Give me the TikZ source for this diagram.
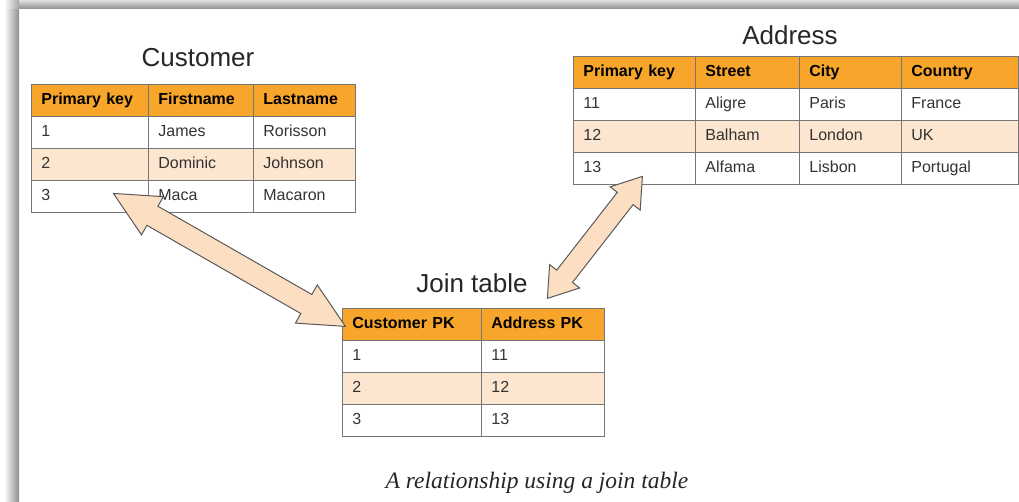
\documentclass[tikz,border=0pt]{standalone}
\usepackage{fontspec}
\setmainfont{Liberation Sans}
\newfontfamily\piefont{Liberation Serif}
\usepackage{tikz}
\usetikzlibrary{matrix, calc, positioning}
\definecolor{naranja}{RGB}{248, 166, 43}
\definecolor{melocoton}{RGB}{253, 230, 207}
\definecolor{flecha}{RGB}{252, 223, 194}
\definecolor{rejilla}{RGB}{118, 118, 118}
\definecolor{texto}{RGB}{51, 51, 51}
\tikzset{
    tabla/.style={matrix of nodes, row sep=-0.8pt, column sep=-0.8pt, anchor=north west,
        inner sep=0pt, outer sep=0pt,
        nodes={draw=rejilla, line width=0.8pt, minimum height=32pt, inner xsep=10pt, align=left,
               text=texto, font=\fontsize{16}{19}\selectfont, text height=12pt, text depth=3.5pt},
        row 1/.style={nodes={fill=naranja, text=black, font=\fontsize{16}{19}\selectfont\bfseries}},
        row 3/.style={nodes={fill=melocoton}}},
    titulo/.style={font=\fontsize{26}{30}\selectfont, text=black!85, anchor=base, inner sep=0pt},
    gorda/.style={fill=flecha, draw=black!65, line width=1pt, line join=miter},
}
% double block arrow: from, to, head length, head half width, shaft half width
\newcommand{\flechadoble}[5]{%
    \coordinate (fa) at ($(#1)!#3!(#2)$);
    \coordinate (fb) at ($(#2)!#3!(#1)$);
    \draw[gorda] (#1) -- ($(fa)!#4!90:(#2)$) -- ($(fa)!#5!90:(#2)$)
        -- ($(fb)!#5!-90:(#1)$) -- ($(fb)!#4!-90:(#1)$) -- (#2)
        -- ($(fb)!#4!90:(#1)$) -- ($(fb)!#5!90:(#1)$)
        -- ($(fa)!#5!-90:(#2)$) -- ($(fa)!#4!-90:(#2)$) -- cycle;
}

\begin{document}
\begin{tikzpicture}[x=1pt, y=-1pt]
    \useasboundingbox (0,0) rectangle (1019,502);

    % frame shadow
    \shade[left color=white, right color=black!45] (4,9) rectangle (19,502);
    \shade[top color=black!12, bottom color=black!45] (19,0) rectangle (1019,9);
    \shade[left color=white, right color=black!35] (4,0) rectangle (19,9);

    % tables
    \node[titulo] (tCliente) at (198,67) {Customer};
    \matrix[tabla,
        column 1/.style={nodes={text width=97pt}},
        column 2/.style={nodes={text width=85pt}},
        column 3/.style={nodes={text width=82pt}}] (cliente) at (31,84) {
        Primary key & Firstname & Lastname \\
        1 & James & Rorisson \\
        2 & Dominic & Johnson \\
        3 & Maca & Macaron \\
    };

    \node[titulo] (tDireccion) at (790,45) {Address};
    \matrix[tabla,
        column 1/.style={nodes={text width=102pt}},
        column 2/.style={nodes={text width=84pt}},
        column 3/.style={nodes={text width=82pt}},
        column 4/.style={nodes={text width=97pt}}] (direccion) at (573,56) {
        Primary key & Street & City & Country \\
        11 & Aligre & Paris & France \\
        12 & Balham & London & UK \\
        13 & Alfama & Lisbon & Portugal \\
    };

    \node[titulo] (tUnion) at (472,293) {Join table};
    \matrix[tabla,
        column 1/.style={nodes={text width=119pt}},
        column 2/.style={nodes={text width=103pt}}] (union) at (342,308) {
        Customer PK & Address PK \\
        1 & 11 \\
        2 & 12 \\
        3 & 13 \\
    };

    % arrows
    \coordinate (pC) at ($(cliente-4-1.east)+(-35,-3)$);
    \coordinate (pU) at ($(union-1-1.west)+(3,2)$);
    \coordinate (pD) at ($(direccion-4-1.south east)+(-53,-8)$);
    \coordinate (pT) at ($(union-1-2.north west)+(66,-10)$);
    \flechadoble{pC}{pU}{45pt}{22pt}{11pt}
    \flechadoble{pD}{pT}{28pt}{19pt}{10pt}

    \node[font=\piefont\itshape\fontsize{23.5}{28}\selectfont, text=black!85, anchor=base] (pie) at (537,488) {A relationship using a join table};
\end{tikzpicture}
\end{document}
